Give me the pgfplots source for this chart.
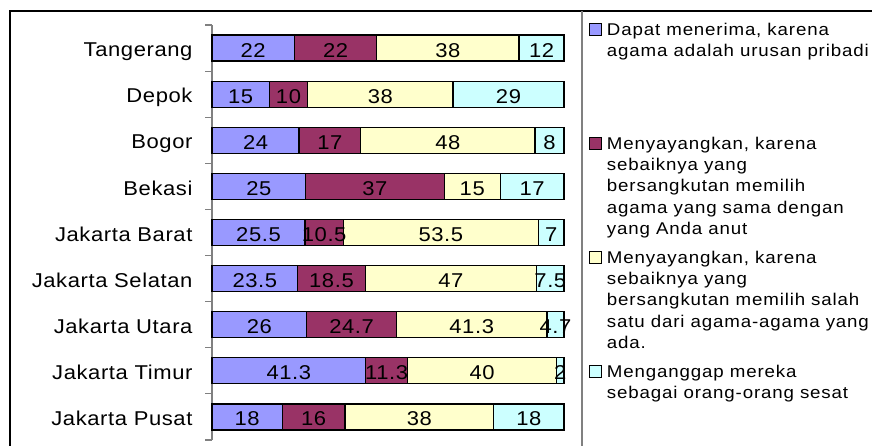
\documentclass[border=0pt]{standalone}
\usepackage{fontspec}
\setmainfont{Liberation Sans}
\newfontfamily\barfont[LetterSpace=3,FakeStretch=1.1]{Liberation Sans}
\newfontfamily\legfont[LetterSpace=5,FakeStretch=1.1]{Liberation Sans}
\usepackage{pgfplots}
\usepackage{pgfplotstable}
\pgfplotsset{compat=1.18}
\definecolor{cA}{HTML}{9999FF}
\definecolor{cB}{HTML}{993366}
\definecolor{cC}{HTML}{FFFFCC}
\definecolor{cD}{HTML}{CCFFFF}
\definecolor{axgray}{HTML}{808080}
\pgfplotstableread{
idx a b c d
0 22 22 38 12
1 15 10 38 29
2 24 17 48 8
3 25 37 15 17
4 25.5 10.5 53.5 7
5 23.5 18.5 47 7.5
6 26 24.7 41.3 4.7
7 41.3 11.3 40 2
8 18 16 38 18
}\datatable
\pgfplotsset{
  sq/.style={legend image code/.code={\draw[##1,line width=0.8pt] (0pt,-0.5pt) rectangle (12pt,11.5pt);}},
  geom/.style={at={(212pt,6pt)}, anchor=south west,
    scale only axis, width=352pt, height=415pt,
    xmin=0, xmax=100, ymin=-0.5, ymax=8.5, y dir=reverse, clip=false},
  lbl/.style={only marks, mark=none, point meta=explicit symbolic,
    nodes near coords={\pgfplotspointmeta},
    every node near coord/.style={font=\fontsize{20}{23}\barfont, anchor=base, text=black, inner sep=0pt, yshift=-9pt}},
}
\newcommand\leg[1]{\parbox[t][114pt][t]{270pt}{\fontsize{17}{21.3}\legfont\raggedright\strut #1}}
\begin{document}
\begin{tikzpicture}[x=1pt,y=1pt]
\begin{axis}[
  geom,
  xbar stacked, bar width=0.564,
  axis x line=none,
  axis y line*=left,
  y axis line style={draw=axgray, line width=1.2pt, -},
  ytick={0,1,2,3,4,5,6,7,8},
  yticklabels={Tangerang,Depok,Bogor,Bekasi,Jakarta Barat,Jakarta Selatan,Jakarta Utara,Jakarta Timur,Jakarta Pusat},
  minor ytick={-0.5,0.5,1.5,2.5,3.5,4.5,5.5,6.5,7.5,8.5},
  major tick length=0pt, minor tick length=7pt,
  tick align=outside,
  minor tick style={draw=axgray, line width=1.2pt},
  yticklabel style={font=\fontsize{20}{23}\barfont, anchor=base east, xshift=-16pt, yshift=-8.7pt},
  legend style={at={(axis description cs:1.071,1.0118)}, anchor=north west, draw=none, fill=none, inner sep=0pt, row sep=0pt, column sep=5pt, cells={anchor=base west}, nodes={inner sep=0pt, text depth=}},
  sq,
]
\addplot[fill=cA, draw=black, line width=1.2pt, sq] table[x expr={\thisrow{a}/(\thisrow{a}+\thisrow{b}+\thisrow{c}+\thisrow{d})*100}, y=idx] {\datatable};
\addlegendentry{\leg{Dapat menerima, karena\newline agama adalah urusan pribadi}}
\addplot[fill=cB, draw=black, line width=1.2pt, sq] table[x expr={\thisrow{b}/(\thisrow{a}+\thisrow{b}+\thisrow{c}+\thisrow{d})*100}, y=idx] {\datatable};
\addlegendentry{\leg{Menyayangkan, karena\newline sebaiknya yang\newline bersangkutan memilih\newline agama yang sama dengan\newline yang Anda anut}}
\addplot[fill=cC, draw=black, line width=1.2pt, sq] table[x expr={\thisrow{c}/(\thisrow{a}+\thisrow{b}+\thisrow{c}+\thisrow{d})*100}, y=idx] {\datatable};
\addlegendentry{\leg{Menyayangkan, karena\newline sebaiknya yang\newline bersangkutan memilih salah\newline satu dari agama-agama yang\newline ada.}}
\addplot[fill=cD, draw=black, line width=1.2pt, sq] table[x expr={\thisrow{d}/(\thisrow{a}+\thisrow{b}+\thisrow{c}+\thisrow{d})*100}, y=idx] {\datatable};
\addlegendentry{\leg{Menganggap mereka\newline sebagai orang-orang sesat}}
\end{axis}
\begin{axis}[geom, hide axis]
\addplot[lbl] table[x expr={(\thisrow{a}/2)/(\thisrow{a}+\thisrow{b}+\thisrow{c}+\thisrow{d})*100}, y=idx, meta=a] {\datatable};
\addplot[lbl] table[x expr={(\thisrow{a}+\thisrow{b}/2)/(\thisrow{a}+\thisrow{b}+\thisrow{c}+\thisrow{d})*100}, y=idx, meta=b] {\datatable};
\addplot[lbl] table[x expr={(\thisrow{a}+\thisrow{b}+\thisrow{c}/2)/(\thisrow{a}+\thisrow{b}+\thisrow{c}+\thisrow{d})*100}, y=idx, meta=c] {\datatable};
\addplot[lbl] table[x expr={(\thisrow{a}+\thisrow{b}+\thisrow{c}+\thisrow{d}/2)/(\thisrow{a}+\thisrow{b}+\thisrow{c}+\thisrow{d})*100}, y=idx, meta=d] {\datatable};
\end{axis}
\draw[line width=1.3pt] (10,0) -- (10,435) -- (872,435);
\draw[axgray, line width=1.5pt] (582,0) -- (582,435);
\pgfresetboundingbox
\path (0,0) rectangle (872,446);
\end{tikzpicture}
\end{document}
